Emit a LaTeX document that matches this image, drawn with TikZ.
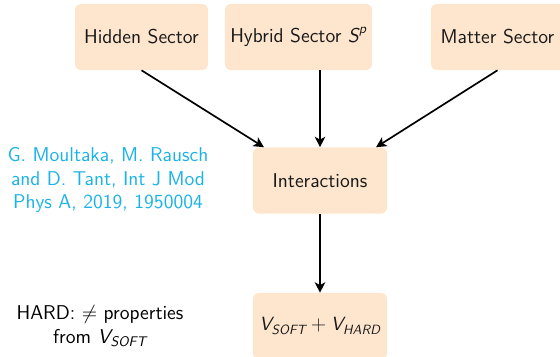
\documentclass[tikz,border=0pt]{standalone}
\usepackage{amsmath}
\usepackage{fontspec}
\usetikzlibrary{arrows.meta}
\renewcommand{\familydefault}{\sfdefault}
\definecolor{sectorfill}{RGB}{254,230,206}
\definecolor{refblue}{RGB}{27,178,232}
\newcommand{\sfit}[1]{\text{\sffamily\itshape #1}}

\begin{document}
\begin{tikzpicture}[x=0.025cm, y=-0.025cm,
		every node/.style={font=\fontsize{14.2}{16.6}\selectfont},
		sector/.style={fill=sectorfill, rounded corners=0.15cm, minimum width=3.325cm, minimum height=1.65cm, text=black!90},
		flow/.style={-{Stealth[length=0.26cm, width=0.26cm, inset=0.07cm]}, line width=1.2pt}]
				\clip (0,0) rectangle (560,356);

				\node[sector] (hidden) at (141.5,37) {Hidden Sector};
				\node[sector, minimum width=3.675cm] (hybrid) at (298.5,37) {Hybrid Sector $\sfit{S}^{\sfit{p}}$};
				\node[sector] (matter) at (497.5,37) {Matter Sector};
				\node[sector, minimum width=3.35cm] (inter) at (320,180.5) {Interactions};
				\node[sector, minimum width=3.35cm, font=\fontsize{13.6}{16.4}\selectfont] (vsum) at (320,326) {$\sfit{V}_{\sfit{SOFT}}+\sfit{V}_{\sfit{HARD}}$};

				\node[align=center, text=refblue] (cite) at (108,180) {G. Moultaka, M. Rausch\\and D. Tant, Int J Mod\\Phys A, 2019, 1950004};
				\node[align=center] (hard) at (100,326) {HARD: $\neq$ properties\\from $\sfit{V}_{\sfit{SOFT}}$};

				\draw[flow] (hidden.south) -- ([xshift=-1.4cm]inter.north);
				\draw[flow] (inter.north |- hybrid.south) -- (inter.north);
				\draw[flow] (matter.south) -- ([xshift=1.4cm]inter.north);
				\draw[flow] (inter.south) -- (vsum.north);
			\end{tikzpicture}
\end{document}
